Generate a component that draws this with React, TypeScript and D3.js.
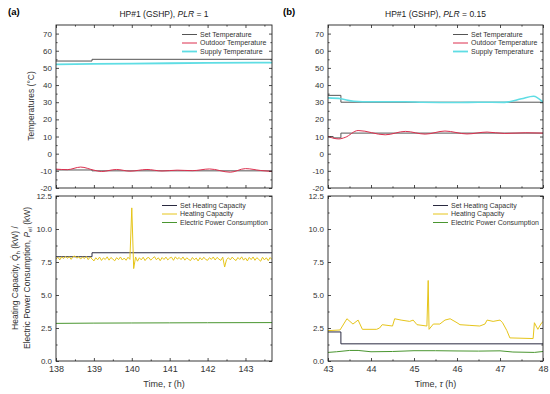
import React, { useEffect, useRef } from 'react'
import * as d3 from 'd3'

type Pt = [number, number]

// ---- panel (a): PLR = 1, time 138 .. 143.7 h ----
const aSetSupply: Pt[] = [[138, 54], [138.95, 55], [143.7, 55]]
const aSetOutdoor: Pt[] = [[138, -9.5], [138.95, -10], [143.7, -10]]
const aSupply: Pt[] = [[138, 52], [139, 52.3], [140, 52.5], [141, 52.7], [142, 52.9], [143.7, 53.1]]
const aOutdoor: Pt[] = [
  [138, -9], [138.3, -9.3], [138.65, -7.8], [139.0, -9.6], [139.2, -10.4], [139.6, -9.2],
  [139.95, -10.2], [140.4, -9.2], [140.8, -10.1], [141.2, -9.6], [141.6, -9.9], [142.05, -8.9],
  [142.6, -10.8], [143.0, -8.7], [143.4, -9.8], [143.7, -10.4],
]
const aSetCap: Pt[] = [[138, 7.9], [138.95, 8.2], [143.7, 8.2]]
const aCapStart = 138
const aCapStep = 0.05
const aCap = [
  7.72, 7.86, 7.66, 7.89, 7.76, 7.93, 7.78, 7.90, 7.70, 7.91, 7.95, 7.79, 7.90, 7.72, 7.88, 7.76, 7.92, 7.68, 7.87, 7.74,
  7.58, 7.82, 7.67, 7.87, 7.62, 7.81, 7.69, 7.89, 7.64, 7.84, 7.72, 7.59, 7.83, 7.68, 7.88, 7.65, 7.80, 7.63, 7.86, 7.70,
  11.6, 7.0, 7.88, 7.56, 7.82, 7.66, 7.86, 7.61, 7.80, 7.84, 7.64, 7.78, 7.90, 7.67, 7.82, 7.60, 7.84, 7.69, 7.87, 7.66,
  7.80, 7.86, 7.63, 7.89, 7.72, 7.84, 7.68, 7.88, 7.64, 7.82, 7.70, 7.61, 7.84, 7.67, 7.80, 7.58, 7.83, 7.66, 7.86, 7.69,
  7.63, 7.83, 7.70, 7.88, 7.65, 7.85, 7.72, 7.62, 7.87, 7.12, 7.68, 7.82, 7.66, 7.87, 7.71, 7.61, 7.84, 7.69, 7.89, 7.64,
  7.81, 7.58, 7.85, 7.68, 7.88, 7.63, 7.83, 7.70, 7.56, 7.86, 7.66, 7.82, 7.60, 7.84, 7.68,
]
const aPower: Pt[] = [[138, 2.85], [139, 2.87], [140, 2.88], [141, 2.89], [142, 2.9], [143.7, 2.91]]

// ---- panel (b): PLR = 0.15, time 43 .. 48 h ----
const bSetSupply: Pt[] = [[43, 34], [43.3, 30], [48, 30]]
const bSetOutdoor: Pt[] = [[43, 10], [43.12, 9.2], [43.3, 12], [48, 12]]
const bSupply: Pt[] = [
  [43, 32.5], [43.3, 32], [43.6, 30.6], [44, 30.3], [44.8, 30.3], [45.2, 30], [46, 29.8],
  [46.5, 30], [47.1, 29.9], [47.5, 32], [47.78, 33.5], [48, 30],
]
const bOutdoor: Pt[] = [
  [43, 10], [43.25, 8.6], [43.4, 9.5], [43.7, 13.5], [44.33, 11], [44.8, 13], [45.26, 11.4],
  [45.72, 13.2], [46.23, 11.5], [46.7, 12.6], [47.1, 11.8], [47.6, 12.2], [48, 12],
]
const bSetCap: Pt[] = [[43, 2.2], [43.3, 1.3], [48, 1.3]]
const bCap: Pt[] = [
  [43, 2.3], [43.28, 2.35], [43.44, 3.2], [43.58, 2.8], [43.7, 3.1], [43.8, 2.4], [44.13, 2.4],
  [44.2, 2.5], [44.26, 2.75], [44.5, 2.65], [44.55, 3.2], [44.7, 3.1], [44.9, 3.0], [44.98, 3.1],
  [45.07, 2.75], [45.3, 2.65], [45.33, 6.1], [45.35, 2.4], [45.45, 2.8], [45.6, 2.8], [45.72, 3.1],
  [45.84, 3.2], [46.0, 2.9], [46.07, 2.75], [46.3, 2.7], [46.53, 2.65], [46.65, 2.8], [46.7, 3.1],
  [46.84, 3.0], [47.0, 3.1], [47.06, 2.9], [47.16, 2.3], [47.23, 1.75], [47.77, 1.7], [47.8, 2.9],
  [47.88, 2.4], [47.95, 2.8], [48, 3.0],
]
const bPower: Pt[] = [
  [43, 0.65], [43.2, 0.7], [43.5, 0.8], [43.7, 0.8], [44.0, 0.7], [44.5, 0.72], [45, 0.78],
  [45.5, 0.78], [46, 0.76], [46.5, 0.75], [47, 0.77], [47.3, 0.68], [47.8, 0.65], [48, 0.72],
]

const tempLegend = ['Set Temperature', 'Outdoor Temperature', 'Supply Temperature']
const capLegend = ['Set Heating Capacity', 'Heating Capacity', 'Electric Power Consumption']
const tempTicks = [-20, -10, 0, 10, 20, 30, 40, 50, 60, 70]
const tempMinor = [-15, -5, 5, 15, 25, 35, 45, 55, 65]
const capTicks = [0, 2.5, 5, 7.5, 10, 12.5]
const capMinor = [1.25, 3.75, 6.25, 8.75, 11.25]

const C = {
  set: '#555555',
  outdoor: '#dc2f4e',
  supply: '#5fdde4',
  setCap: '#2a2a40',
  cap: '#e6c51a',
  power: '#4a9630',
}
const FONT = 'Liberation Sans, Arial, sans-serif'

interface PanelCfg {
  tag: string
  tagX: number
  plr: string
  x0: number
  x1: number
  xDomain: [number, number]
  xTicks: number[]
  xMinor: number[]
  top: { data: Pt[]; color: string; width: number; curve: d3.CurveFactory }[]
  bottom: { data: Pt[]; color: string; width: number; curve: d3.CurveFactory }[]
}

export default function App() {
  const ref = useRef<SVGSVGElement>(null)

  useEffect(() => {
    const svg = d3.select(ref.current)
    svg.selectAll('*').remove()

    const yTop = d3.scaleLinear().domain([-20, 75]).range([188, 25])
    const yBot = d3.scaleLinear().domain([0, 12.5]).range([361, 196])

    const aCapPts: Pt[] = aCap.map((v, i) => [aCapStart + i * aCapStep, v])

    const panels: PanelCfg[] = [
      {
        tag: '(a)', tagX: 8, plr: '1', x0: 56, x1: 272, xDomain: [138, 143.7],
        xTicks: [138, 139, 140, 141, 142, 143], xMinor: [138.5, 139.5, 140.5, 141.5, 142.5, 143.5],
        top: [
          { data: aSupply, color: C.supply, width: 1.8, curve: d3.curveLinear },
          { data: aSetSupply, color: C.set, width: 1, curve: d3.curveStepAfter },
          { data: aSetOutdoor, color: C.set, width: 1, curve: d3.curveStepAfter },
          { data: aOutdoor, color: C.outdoor, width: 1, curve: d3.curveMonotoneX },
        ],
        bottom: [
          { data: aSetCap, color: C.setCap, width: 1, curve: d3.curveStepAfter },
          { data: aCapPts, color: C.cap, width: 1, curve: d3.curveLinear },
          { data: aPower, color: C.power, width: 1, curve: d3.curveLinear },
        ],
      },
      {
        tag: '(b)', tagX: 283, plr: '0.15', x0: 328, x1: 543, xDomain: [43, 48],
        xTicks: [43, 44, 45, 46, 47, 48], xMinor: [43.5, 44.5, 45.5, 46.5, 47.5],
        top: [
          { data: bSetSupply, color: C.set, width: 1, curve: d3.curveStepAfter },
          { data: bSetOutdoor, color: C.set, width: 1, curve: d3.curveStepAfter },
          { data: bSupply, color: C.supply, width: 1.6, curve: d3.curveMonotoneX },
          { data: bOutdoor, color: C.outdoor, width: 1, curve: d3.curveMonotoneX },
        ],
        bottom: [
          { data: bSetCap, color: C.setCap, width: 1, curve: d3.curveStepAfter },
          { data: bCap, color: C.cap, width: 1, curve: d3.curveLinear },
          { data: bPower, color: C.power, width: 1, curve: d3.curveLinear },
        ],
      },
    ]

    panels.forEach((p) => {
      const x = d3.scaleLinear().domain(p.xDomain).range([p.x0, p.x1])
      const g = svg.append('g')

      // tag and title
      g.append('text').attr('x', p.tagX).attr('y', 15).attr('font-size', 9.5).attr('font-weight', 'bold')
        .attr('font-family', FONT).text(p.tag)
      const title = g.append('text').attr('x', (p.x0 + p.x1) / 2).attr('y', 17).attr('text-anchor', 'middle')
        .attr('font-size', 8.5).attr('font-family', FONT).attr('fill', '#222')
      title.append('tspan').text('HP#1 (GSHP), ')
      title.append('tspan').attr('font-style', 'italic').text('PLR')
      title.append('tspan').text(' = ' + p.plr)

      const sub = [
        { y: yTop, ticks: tempTicks, minor: tempMinor, fmt: (d: number) => String(d), series: p.top, legend: tempLegend,
          colors: [C.set, C.outdoor, C.supply], lx: p.x1 - 90, ly: 25 },
        { y: yBot, ticks: capTicks, minor: capMinor, fmt: d3.format('.1f'), series: p.bottom, legend: capLegend,
          colors: [C.setCap, C.cap, C.power], lx: p.x1 - 110, ly: 196 },
      ]

      sub.forEach((s, si) => {
        const [yb, yt] = s.y.range()
        const clipId = `clip-${p.tag.replace(/\W/g, '')}-${si}`
        g.append('clipPath').attr('id', clipId).append('rect')
          .attr('x', p.x0).attr('y', yt).attr('width', p.x1 - p.x0).attr('height', yb - yt)

        // series
        const lines = g.append('g').attr('clip-path', `url(#${clipId})`)
        s.series.forEach((ser) => {
          const line = d3.line<Pt>().x((d) => x(d[0])).y((d) => s.y(d[1])).curve(ser.curve)
          lines.append('path').attr('d', line(ser.data)).attr('fill', 'none')
            .attr('stroke', ser.color).attr('stroke-width', ser.width).attr('stroke-linejoin', 'round')
        })

        // axes: inward ticks on all four sides
        const axes = g.append('g').attr('font-family', FONT)
        const left = axes.append('g').attr('transform', `translate(${p.x0},0)`)
          .call(d3.axisLeft(s.y).tickValues(s.ticks).tickSize(-3).tickPadding(4).tickFormat((d) => s.fmt(d as number)))
        left.selectAll('text').attr('font-size', 8).attr('fill', '#333')
        axes.append('g').attr('transform', `translate(${p.x0},0)`)
          .call(d3.axisLeft(s.y).tickValues(s.minor).tickSize(-1.6).tickFormat(() => ''))
        axes.append('g').attr('transform', `translate(${p.x1},0)`)
          .call(d3.axisRight(s.y).tickValues(s.ticks).tickSize(-3).tickFormat(() => ''))
        axes.append('g').attr('transform', `translate(${p.x1},0)`)
          .call(d3.axisRight(s.y).tickValues(s.minor).tickSize(-1.6).tickFormat(() => ''))
        axes.append('g').attr('transform', `translate(0,${yt})`)
          .call(d3.axisTop(x).tickValues(p.xTicks).tickSize(-3).tickFormat(() => ''))
        axes.append('g').attr('transform', `translate(0,${yt})`)
          .call(d3.axisTop(x).tickValues(p.xMinor).tickSize(-1.6).tickFormat(() => ''))
        const bottom = axes.append('g').attr('transform', `translate(0,${yb})`)
          .call(d3.axisBottom(x).tickValues(p.xTicks).tickSize(-3).tickPadding(5)
            .tickFormat((d) => (si === 1 ? String(d) : '')))
        bottom.selectAll('text').attr('font-size', 9).attr('fill', '#333')
        axes.append('g').attr('transform', `translate(0,${yb})`)
          .call(d3.axisBottom(x).tickValues(p.xMinor).tickSize(-1.6).tickFormat(() => ''))
        axes.selectAll('.domain').remove()
        axes.selectAll('line').attr('stroke', '#222').attr('stroke-width', 0.8)
        axes.append('rect').attr('x', p.x0).attr('y', yt).attr('width', p.x1 - p.x0).attr('height', yb - yt)
          .attr('fill', 'none').attr('stroke', '#222').attr('stroke-width', 0.9)

        // legend
        const lg = g.append('g').attr('font-family', FONT).attr('font-size', 7).attr('fill', '#333')
        s.legend.forEach((name, i) => {
          const ly = s.ly + 9.5 + i * 8.5
          lg.append('line').attr('x1', s.lx).attr('x2', s.lx + 15).attr('y1', ly).attr('y2', ly)
            .attr('stroke', s.colors[i]).attr('stroke-width', i === 2 && si === 0 ? 1.8 : 1)
          lg.append('text').attr('x', s.lx + 18).attr('y', ly).attr('dy', '0.35em').text(name)
        })
      })

      // x axis title
      const xt = g.append('text').attr('x', (p.x0 + p.x1) / 2).attr('y', 387).attr('text-anchor', 'middle')
        .attr('font-size', 9).attr('font-family', FONT).attr('fill', '#333')
      xt.append('tspan').text('Time, ')
      xt.append('tspan').attr('font-style', 'italic').text('\u03c4')
      xt.append('tspan').text(' (h)')
    })

    // y axis titles (left panel only)
    const yt1 = svg.append('text').attr('transform', 'translate(34,106) rotate(-90)').attr('text-anchor', 'middle')
      .attr('font-size', 8.5).attr('font-family', FONT).attr('fill', '#333')
    yt1.text('Temperatures (\u00b0C)')

    const yt2 = svg.append('text').attr('transform', 'translate(18,278) rotate(-90)').attr('text-anchor', 'middle')
      .attr('font-size', 8.5).attr('font-family', FONT).attr('fill', '#333')
    yt2.append('tspan').text('Heating Capacity, ')
    yt2.append('tspan').attr('font-style', 'italic').text('Q\u0307')
    yt2.append('tspan').attr('font-size', 6).attr('dy', 2).text('h')
    yt2.append('tspan').attr('dy', -2).text(' (kW) /')
    const yt3 = svg.append('text').attr('transform', 'translate(30,278) rotate(-90)').attr('text-anchor', 'middle')
      .attr('font-size', 8.5).attr('font-family', FONT).attr('fill', '#333')
    yt3.append('tspan').text('Electric Power Consumption, ')
    yt3.append('tspan').attr('font-style', 'italic').text('P')
    yt3.append('tspan').attr('font-size', 6).attr('dy', 2).text('el')
    yt3.append('tspan').attr('dy', -2).text(' (kW)')
  }, [])

  return (
    <svg ref={ref} width={550} height={394} style={{ position: 'absolute', left: 0, top: 0, background: '#fff' }} />
  )
}
